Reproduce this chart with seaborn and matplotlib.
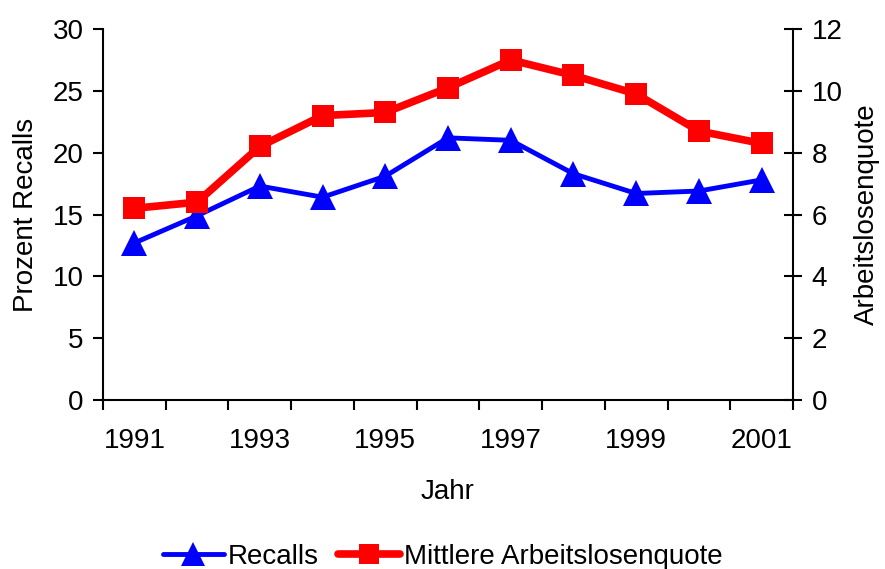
import matplotlib
matplotlib.use("Agg")
import matplotlib.pyplot as plt
import seaborn as sns
import pandas as pd
import numpy as np

years = [1991, 1992, 1993, 1994, 1995, 1996, 1997, 1998, 1999, 2000, 2001]
recalls = [12.7, 14.9, 17.3, 16.4, 18.1, 21.2, 21.0, 18.3, 16.7, 16.9, 17.8]
quote = [6.2, 6.4, 8.2, 9.2, 9.3, 10.1, 11.0, 10.5, 9.9, 8.7, 8.3]

df = pd.DataFrame({"pos": np.arange(len(years)), "Jahr": years,
                   "Recalls": recalls, "Quote": quote})

FS = 20

sns.set_style("white")
plt.rcParams["font.family"] = ["Liberation Sans", "DejaVu Sans"]
plt.rcParams["font.size"] = FS
plt.rcParams["text.color"] = "black"
plt.rcParams["axes.labelcolor"] = "black"
plt.rcParams["xtick.color"] = "black"
plt.rcParams["ytick.color"] = "black"

fig = plt.figure(figsize=(8.85, 5.69), dpi=100)
ax = fig.add_axes([0.1164, 0.297, 0.7796, 0.652])
ax2 = ax.twinx()

sns.lineplot(data=df, x="pos", y="Recalls", ax=ax, color="#0000ff", lw=3.5,
             marker="^", markersize=18.5, markeredgewidth=0, label="Recalls",
             legend=False)
sns.lineplot(data=df, x="pos", y="Quote", ax=ax2, color="#ff0000", lw=5.5,
             marker="s", markersize=16, markeredgewidth=0,
             label="Mittlere Arbeitslosenquote", legend=False)

ax.set_xlim(-0.5, len(years) - 0.5)
ax.set_ylim(0, 30)
ax2.set_ylim(0, 12)
ax.set_yticks(range(0, 31, 5))
ax2.set_yticks(range(0, 13, 2))

ax.set_xticks(df["pos"][::2])
ax.set_xticklabels([str(y) for y in years[::2]])
ax.set_xticks(np.arange(-0.5, len(years)), minor=True)
ax.tick_params(axis="x", which="major", length=0, pad=20, labelsize=FS)
ax.tick_params(axis="x", which="minor", length=7, width=1.5, direction="out",
               bottom=True)
ax.tick_params(axis="y", length=7, width=1.5, direction="out", left=True,
               labelsize=FS, pad=7)
ax2.tick_params(axis="y", length=13, width=1.5, direction="inout", right=True,
                labelsize=FS, pad=7)

for a in (ax, ax2):
    for s in a.spines.values():
        s.set_visible(False)
ax.spines["left"].set_visible(True)
ax.spines["bottom"].set_visible(True)
ax2.spines["right"].set_visible(True)
for s in (ax.spines["left"], ax.spines["bottom"], ax2.spines["right"]):
    s.set_linewidth(1.5)
    s.set_color("black")

ax.set_xlabel("Jahr", fontsize=FS, labelpad=18)
ax.set_ylabel("Prozent Recalls", fontsize=FS, labelpad=10)
ax2.set_ylabel("Arbeitslosenquote", fontsize=FS, labelpad=8)
ax.grid(False)
ax2.grid(False)

h1, l1 = ax.get_legend_handles_labels()
h2, l2 = ax2.get_legend_handles_labels()
fig.legend(h1 + h2, l1 + l2, loc="lower center", bbox_to_anchor=(0.5, -0.045),
           ncol=2, frameon=False, fontsize=FS, handlelength=2.2,
           columnspacing=0.7, handletextpad=0.15, markerscale=0.9)

fig.savefig("out.png", dpi=100)
